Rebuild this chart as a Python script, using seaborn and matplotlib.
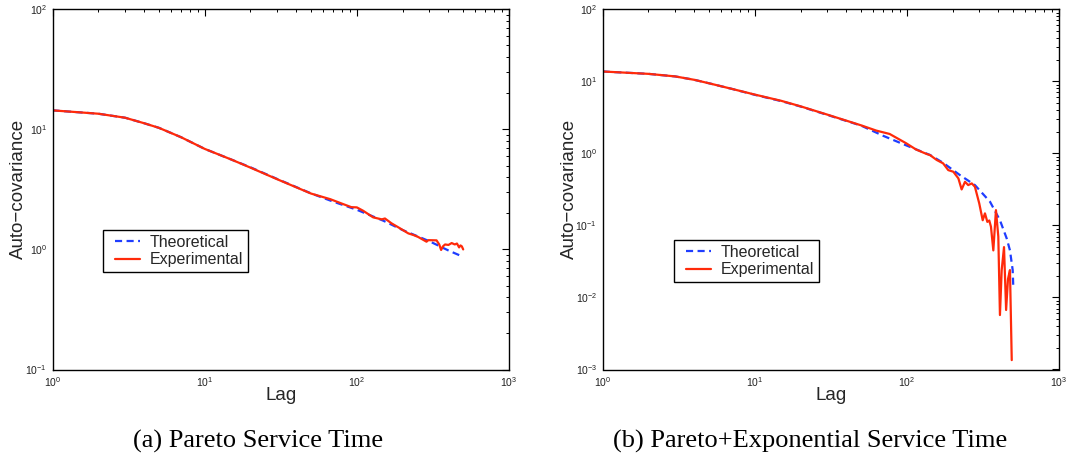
import numpy as np
import pandas as pd
import matplotlib
matplotlib.use("Agg")
import matplotlib.pyplot as plt
import seaborn as sns
from matplotlib.ticker import LogLocator, NullFormatter, LogFormatterSciNotation
from matplotlib.legend_handler import HandlerLine2D

# ---------------- data ----------------
# (a) Pareto service time
lag_a_theo = [1, 2, 3, 4, 5, 7, 10, 15, 20, 30, 50, 70, 100, 150, 200, 300, 400, 500]
val_a_theo = [14.4, 13.5, 12.5, 11.25, 10.3, 8.6, 6.88, 5.6, 4.83, 3.86, 2.93, 2.5, 2.14,
              1.73, 1.45, 1.17, 0.98, 0.867]

lag_a_exp = [1, 2, 3, 4, 5, 7, 10, 15, 20, 30, 50, 67, 81, 92, 100, 110, 128, 146, 153, 169,
             192, 218, 235, 253, 287, 295, 334, 348, 358, 368, 380, 400, 420, 440, 455,
             470, 480, 490, 500]
val_a_exp = [14.4, 13.5, 12.5, 11.25, 10.3, 8.6, 6.88, 5.6, 4.8, 3.84, 2.92, 2.62, 2.39, 2.25,
             2.24, 2.10, 1.85, 1.78, 1.81, 1.65, 1.50, 1.36, 1.32, 1.27, 1.16, 1.195, 1.19,
             1.10, 0.99, 1.06, 1.10, 1.09, 1.13, 1.10, 1.12, 1.04, 1.08, 1.06, 1.0]

# (b) Pareto + Exponential service time
lag_b_theo = [1, 2, 3, 4, 5, 7, 10, 15, 20, 30, 50, 70, 100, 142, 173, 223, 280, 352, 409,
              453, 476, 496, 501]
val_b_theo = [13.7, 12.7, 11.7, 10.5, 9.4, 7.9, 6.5, 5.3, 4.47, 3.42, 2.43, 1.75, 1.28, 0.95,
              0.74, 0.50, 0.363, 0.213, 0.118, 0.066, 0.045, 0.024, 0.0133]

lag_b_exp = [1, 2, 3, 4, 5, 7, 10, 15, 20, 30, 50, 63, 77, 99, 115, 135, 142, 157, 173, 187,
             202, 218, 229, 241, 253, 267, 280, 299, 315, 326, 338, 348, 357, 370, 385, 399,
             409, 420, 435, 449, 462, 476, 489]
val_b_exp = [13.7, 12.7, 11.7, 10.5, 9.4, 7.9, 6.55, 5.35, 4.5, 3.45, 2.45, 2.07, 1.86, 1.38,
             1.13, 0.98, 0.946, 0.81, 0.727, 0.586, 0.556, 0.45, 0.316, 0.403, 0.363, 0.383,
             0.344, 0.202, 0.118, 0.147, 0.112, 0.117, 0.096, 0.045, 0.163, 0.070, 0.0057,
             0.024, 0.050, 0.0067, 0.018, 0.024, 0.00135]

labels = ["Theoretical", "Experimental"]
captions = ["(a) Pareto Service Time", "(b) Pareto+Exponential Service Time"]

# ---------------- style ----------------
sns.set_theme(style="white")
plt.rcParams['font.family'] = ['Liberation Sans', 'DejaVu Sans']
plt.rcParams['mathtext.fontset'] = 'custom'
plt.rcParams['mathtext.rm'] = 'Liberation Sans'
plt.rcParams['mathtext.it'] = 'Liberation Sans:italic'
plt.rcParams['mathtext.bf'] = 'Liberation Sans:bold'

BLUE = '#1f3dff'
RED = '#ff2a0a'
W, H = 1067, 466

fig = plt.figure(figsize=(W / 100, H / 100), dpi=100)
ax1 = fig.add_axes([52.5 / W, 1 - 369.5 / H, 456.5 / W, 360.2 / H])
ax2 = fig.add_axes([602.7 / W, 1 - 369.5 / H, 456.3 / W, 360.2 / H])

panels = [
    (ax1, lag_a_theo, val_a_theo, lag_a_exp, val_a_exp, (0.1, 100), (0.1106, 0.3873)),
    (ax2, lag_b_theo, val_b_theo, lag_b_exp, val_b_exp, (1e-3, 100), (0.1558, 0.3587)),
]

for ax, lt, vt, le, ve, ylim, legpos in panels:
    dft = pd.DataFrame({"Lag": lt, "val": vt})
    dfe = pd.DataFrame({"Lag": le, "val": ve})
    sns.lineplot(data=dft, x="Lag", y="val", ax=ax, color=BLUE, lw=1.6,
                 linestyle=(0, (3.2, 2.0)), label=labels[0], estimator=None, sort=False)
    sns.lineplot(data=dfe, x="Lag", y="val", ax=ax, color=RED, lw=1.6,
                 label=labels[1], estimator=None, sort=False)
    ax.set_xscale("log")
    ax.set_yscale("log")
    ax.set_xlim(1, 1000)
    ax.set_ylim(*ylim)
    for a in (ax.xaxis, ax.yaxis):
        a.set_major_locator(LogLocator(base=10, numticks=20))
        a.set_minor_locator(LogLocator(base=10, subs=np.arange(2, 10), numticks=20))
        a.set_minor_formatter(NullFormatter())
        a.set_major_formatter(LogFormatterSciNotation())
    ax.tick_params(which='both', direction='in', top=True, right=True, colors='black',
                   labelcolor='#222222')
    ax.tick_params(which='major', length=5, width=0.8, labelsize=7.5, pad=4)
    ax.tick_params(which='minor', length=2.5, width=0.7)
    for s in ax.spines.values():
        s.set_color('black')
        s.set_linewidth(1.0)
    ax.set_xlabel("Lag", fontsize=13.5, labelpad=-1)
    ax.set_ylabel("Auto\u2212covariance", fontsize=13.5, labelpad=-1.5)
    handles, labs = ax.get_legend_handles_labels()
    leg = ax.legend(handles, labs, loc='upper left', bbox_to_anchor=legpos, borderaxespad=0,
                    frameon=True, fancybox=False, edgecolor='black', fontsize=11.5,
                    handlelength=2.0, handletextpad=0.63, labelspacing=0.15, borderpad=0.3,
                    handler_map={h: HandlerLine2D(xpad=0.44) for h in handles})
    leg.get_frame().set_linewidth(1.0)
    leg.get_frame().set_alpha(1)

fig.text(258.5 / W, 1 - 441 / H, captions[0], ha='center', va='center',
         family=['Liberation Serif', 'DejaVu Serif'], fontsize=19, color='black')
fig.text(810 / W, 1 - 441 / H, captions[1], ha='center', va='center',
         family=['Liberation Serif', 'DejaVu Serif'], fontsize=19, color='black')

fig.savefig("out.png", dpi=100, facecolor='white')
